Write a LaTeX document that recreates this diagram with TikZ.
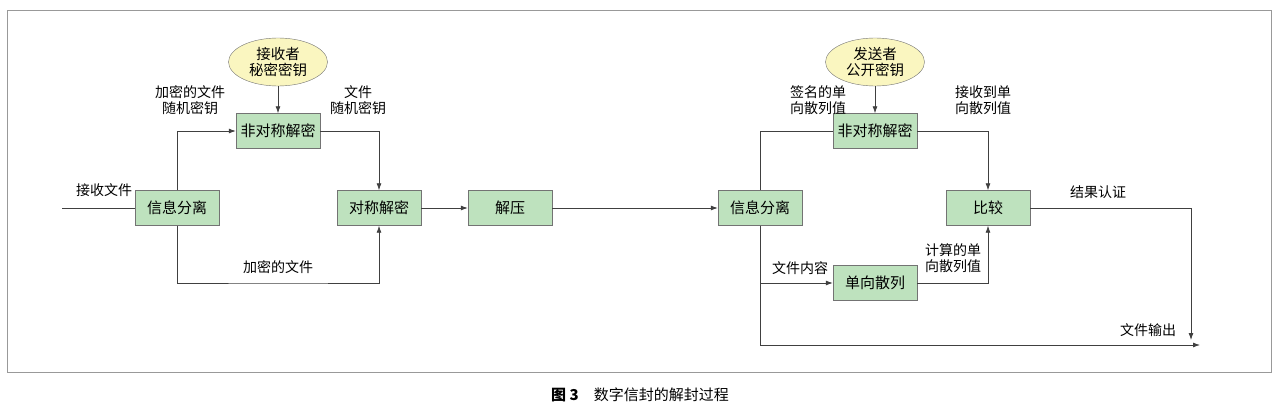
\documentclass[tikz,border=0pt]{standalone}
\usepackage{fontspec}
\setmainfont{Noto Sans CJK SC}
\usetikzlibrary{shapes.geometric,arrows.meta}
\definecolor{boxg}{RGB}{190,226,190}
\definecolor{elly}{RGB}{250,246,192}
\begin{document}
\begin{tikzpicture}[x=1pt,y=-1pt,
  box/.style={draw=black!55,fill=boxg,minimum width=84pt,minimum height=35pt,inner sep=0pt,font=\fontsize{15}{17}\selectfont},
  ell/.style={ellipse,draw=black!55,fill=elly,minimum width=99pt,minimum height=48pt,inner sep=0pt,align=center,font=\fontsize{14.5}{16}\selectfont},
  lab/.style={align=center,font=\fontsize{14}{16}\selectfont,inner sep=0pt},
  ln/.style={draw=black!75,line width=0.8pt},
  ar/.style={ln,-{Latex[length=7pt,width=5pt]}}]
\useasboundingbox (0,0) rectangle (1279,415);
\draw[black!40,line width=0.8pt] (7,10) rectangle (1271,372);
% left part
\node[box] (sep1) at (177,208) {信息分离};
\node[box] (asym1) at (278,131) {非对称解密};
\node[ell] (k1) at (278,62) {接收者\\秘密密钥};
\node[box] (sym) at (379,208) {对称解密};
\node[box] (unz) at (510,208) {解压};
\coordinate (in) at (62,208);
\draw[ln] (in) -- (sep1);
\node[lab] at (104,190) {接收文件};
\draw[ar] (k1) -- (asym1);
\draw[ar] (sep1.north) |- (asym1.west);
\draw[ar] (asym1.east) -| (sym.north);
\draw[ar] (sep1.south) |- (278,283) -| (sym.south);
\node[lab] at (190,100) {加密的文件\\随机密钥};
\node[lab] at (358,100) {文件\\随机密钥};
\node[lab] at (278,267) {加密的文件};
\draw[ar] (sym) -- (unz);
% right part
\node[box] (sep2) at (760,208) {信息分离};
\node[box] (asym2) at (875,131) {非对称解密};
\node[ell] (k2) at (875,62) {发送者\\公开密钥};
\node[box] (cmp) at (988,208) {比较};
\node[box] (hash) at (875,283) {单向散列};
\draw[ar] (unz) -- (sep2);
\draw[ar] (k2) -- (asym2);
\draw[ln] (sep2.north) |- (asym2.west);
\draw[ar] (asym2.east) -| (cmp.north);
\draw[ar] (sep2.south) |- (hash.west);
\draw[ar] (hash.east) -| (cmp.south);
\coordinate (out1) at (1200,345);
\coordinate (out2) at (1191,340);
\draw[ar] (sep2.south) |- (out1);
\draw[ar] (cmp.east) -| (out2);
\node[lab] at (818,100) {签名的单\\向散列值};
\node[lab] at (983,100) {接收到单\\向散列值};
\node[lab] at (1098,192) {结果认证};
\node[lab] at (953,258) {计算的单\\向散列值};
\node[lab] at (800,268) {文件内容};
\node[lab] at (1148,330) {文件输出};
\node[font=\fontsize{15}{17}\selectfont] at (640,395) {\textbf{图 3}\quad 数字信封的解封过程};
\end{tikzpicture}
\end{document}
